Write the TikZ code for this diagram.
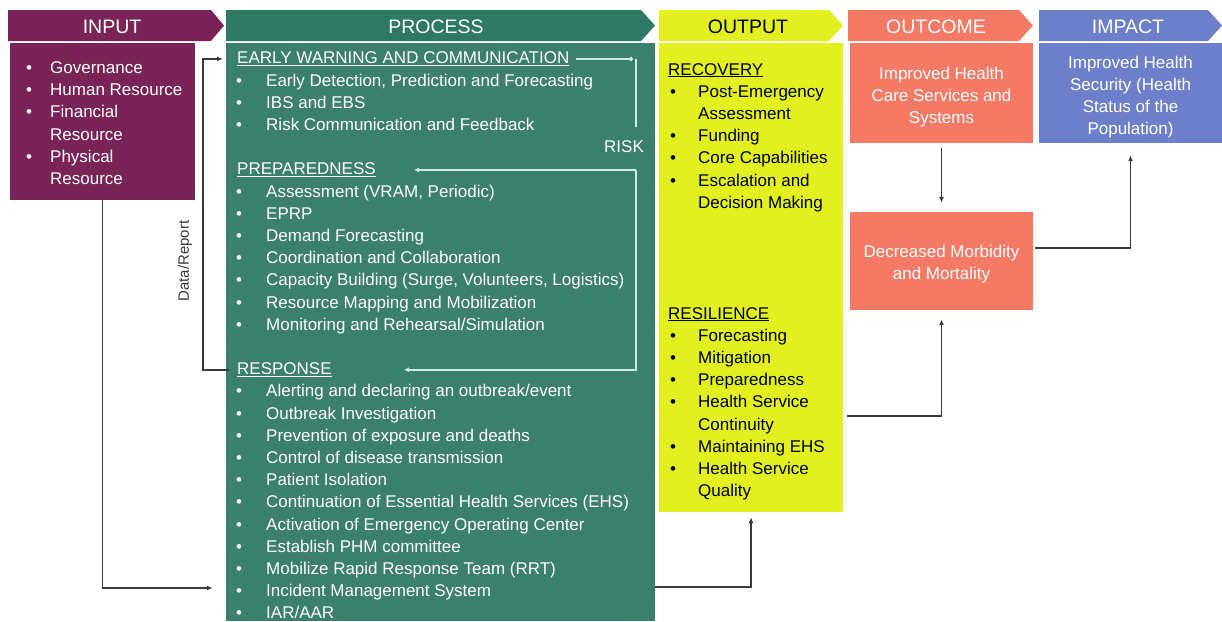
\documentclass[tikz,border=0pt]{standalone}
\usepackage{fontspec}
\setmainfont{Liberation Sans}
\usetikzlibrary{arrows.meta}
\definecolor{inpc}{HTML}{7A2357}
\definecolor{prochd}{HTML}{2E7963}
\definecolor{procc}{HTML}{3B7F6D}
\definecolor{outc}{HTML}{E3F01F}
\definecolor{occ}{HTML}{F47A66}
\definecolor{impc}{HTML}{6D7FCA}
\definecolor{risk}{HTML}{CDEFE3}
\definecolor{lnk}{HTML}{3A3A3A}
\newcommand{\bodyfont}{\fontsize{17}{22.2}\selectfont}
\newcommand{\hdfont}{\fontsize{19.5}{22}\selectfont}
\begin{document}
\begin{tikzpicture}[x=1pt,y=-1pt,
  box/.style={draw=none,inner sep=0,minimum width=#1},
  txt/.style={anchor=base west,inner sep=0,font=\bodyfont},
  ctxt/.style={inner sep=0,font=\bodyfont,align=center},
  hdtxt/.style={inner sep=0,font=\hdfont,anchor=base},
  conn/.style={draw=lnk,line width=1.5pt,-{Latex[length=6pt,width=5pt]}},
  riskln/.style={draw=risk,line width=1.6pt},
  risktip/.style={-{Latex[length=5pt,width=5pt]}}]
\useasboundingbox (0,0) rectangle (1222,621);
% headers
\fill[inpc] (8,10) -- (211,10) -- (224,25.5) -- (211,41) -- (8,41) -- cycle;
\fill[prochd] (226,10) -- (641,10) -- (655,25.5) -- (641,41) -- (226,41) -- cycle;
\fill[outc] (659,10) -- (829,10) -- (843,25.5) -- (829,41) -- (659,41) -- cycle;
\fill[occ] (848,10) -- (1019,10) -- (1033,25.5) -- (1019,41) -- (848,41) -- cycle;
\fill[impc] (1039,10) -- (1208,10) -- (1222,25.5) -- (1208,41) -- (1039,41) -- cycle;
\node[hdtxt,text=white] (hin) at (112,33) {INPUT};
\node[hdtxt,text=white] (hpr) at (436,33) {PROCESS};
\node[hdtxt,text=black] (hou) at (748,33) {OUTPUT};
\node[hdtxt,text=white] (hoc) at (936,33) {OUTCOME};
\node[hdtxt,text=white] (him) at (1128,33) {IMPACT};
% boxes
\node[box=185,minimum height=157,fill=inpc] (inbox) at (102.5,121.5) {};
\node[box=429,minimum height=578,fill=procc] (procbox) at (440.5,332) {};
\node[box=184,minimum height=469,fill=outc] (outbox) at (751,277.5) {};
\node[box=183,minimum height=100,fill=occ] (oc1) at (941.5,93) {};
\node[box=183,minimum height=98,fill=occ] (dec) at (941.5,261) {};
\node[box=183,minimum height=100,fill=impc] (imp) at (1130.5,93) {};
% input text
\foreach \k/\t in {0/Governance,1/Human Resource,2/Financial,3/Resource,4/Physical,5/Resource}
  \node[txt,text=white] (in\k) at (50,{73.5+22.2*\k}) {\t};
\foreach \k in {0,1,2,4}
  \node[txt,text=white] (inb\k) at (26,{73.5+22.2*\k}) {\textbullet};
% process text
\node[txt,text=white] (ew) at (237,63.8) {\underline{EARLY WARNING AND COMMUNICATION}};
\node[txt,text=white] (prep) at (237,{63.8+22.2*5}) {\underline{PREPAREDNESS}};
\node[txt,text=white] (resp) at (237,{63.8+22.2*14}) {\underline{RESPONSE}};
\foreach \k/\t in {1/{Early Detection, Prediction and Forecasting},2/{IBS and EBS},3/{Risk Communication and Feedback},
  6/{Assessment (VRAM, Periodic)},7/{EPRP},8/{Demand Forecasting},9/{Coordination and Collaboration},
  10/{Capacity Building (Surge, Volunteers, Logistics)},11/{Resource Mapping and Mobilization},12/{Monitoring and Rehearsal/Simulation},
  15/{Alerting and declaring an outbreak/event},16/{Outbreak Investigation},17/{Prevention of exposure and deaths},
  18/{Control of disease transmission},19/{Patient Isolation},20/{Continuation of Essential Health Services (EHS)},
  21/{Activation of Emergency Operating Center},22/{Establish PHM committee},23/{Mobilize Rapid Response Team (RRT)},
  24/{Incident Management System},25/{IAR/AAR}}
  {\node[txt,text=white] (pt\k) at (266,{63.8+22.2*\k}) {\t};
   \node[txt,text=white] (pb\k) at (236,{63.8+22.2*\k}) {\textbullet};}
\node[txt,text=white,anchor=base] (risklbl) at (624,{63.8+22.2*4}) {RISK};
% output text
\node[txt] (rec) at (668,75) {\underline{RECOVERY}};
\foreach \k/\t/\b in {1/Post-Emergency/1,2/Assessment/0,3/Funding/1,4/Core Capabilities/1,5/Escalation and/1,6/Decision Making/0}
  {\node[txt] (ot\k) at (698,{75+22.2*\k}) {\t};
   \ifnum\b=1 \node[txt] (ob\k) at (670,{75+22.2*\k}) {\textbullet};\fi}
\node[txt] (res) at (668,319) {\underline{RESILIENCE}};
\foreach \k/\t/\b in {1/Forecasting/1,2/Mitigation/1,3/Preparedness/1,4/Health Service/1,5/Continuity/0,6/Maintaining EHS/1,7/Health Service/1,8/Quality/0}
  {\node[txt] (rt\k) at (698,{319+22.2*\k}) {\t};
   \ifnum\b=1 \node[txt] (rb\k) at (670,{319+22.2*\k}) {\textbullet};\fi}
% outcome / impact text
\node[ctxt,text=white] (oc1t) at (941.5,97) {Improved Health\\Care Services and\\Systems};
\node[ctxt,text=white] (dect) at (941.5,264) {Decreased Morbidity\\and Mortality};
\node[ctxt,text=white] (impt) at (1130.5,97) {Improved Health\\Security (Health\\Status of the\\Population)};
% data/report
\coordinate (drx) at (203,0);
\draw[conn,shorten <=8pt,shorten >=14pt] (resp.west) -- (resp.west -| drx) |- (ew.west);
\node[inner sep=0,rotate=90,font=\fontsize{15}{18}\selectfont,text=lnk] (dr) at (185,261) {Data/Report};
% risk loop
\coordinate (rx) at (636,0);
\draw[riskln,-{Circle[length=4pt]}] ([xshift=6pt]ew.east) -- ([xshift=-3pt]ew.east -| rx);
\draw[riskln] (ew.east -| rx) -- ([yshift=-68pt]ew.east -| rx);
\draw[riskln,risktip,shorten >=38pt] (prep.east -| rx) -- (prep.east);
\draw[riskln,risktip,shorten >=72pt] (prep.east -| rx) |- (resp.east);
% connectors
\coordinate (y1) at (0,588);
\coordinate (y2) at (0,587);
\coordinate (y3) at (0,416);
\coordinate (y4) at (0,248);
\draw[conn,shorten >=13pt] (inbox.south) |- (procbox.west |- y1);
\draw[conn,shorten >=5pt] (procbox.east |- y2) -| (outbox.south);
\draw[conn,shorten <=4pt,shorten >=9pt] (outbox.east |- y3) -| (dec.south);
\draw[conn,shorten <=5pt,shorten >=9pt] (oc1.south) -- (dec.north);
\draw[conn,shorten <=2pt,shorten >=12pt] (dec.east |- y4) -| (imp.south);
\end{tikzpicture}
\end{document}
